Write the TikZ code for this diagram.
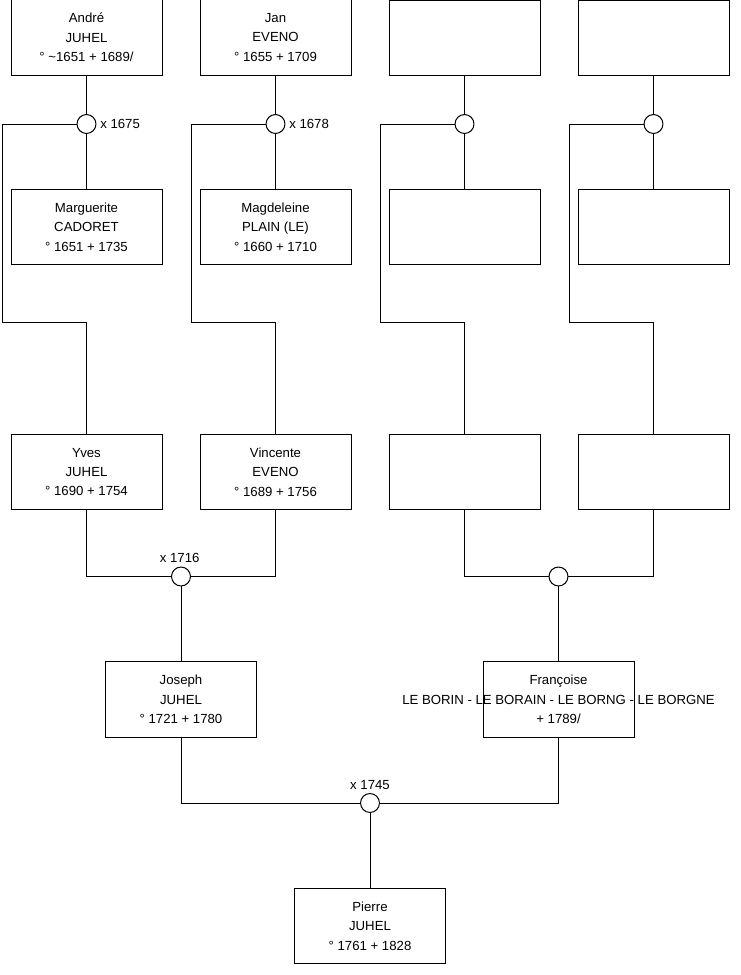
\documentclass[tikz,border=0pt]{standalone}
\usepackage{fontspec}
\setmainfont{Liberation Sans}
\begin{document}
\begin{tikzpicture}[x=0.75pt,y=-0.75pt,line width=0.75pt,
  person/.style={draw, minimum width=113.25pt, minimum height=56.5pt, inner sep=0pt,
    align=center, font=\fontsize{9.9}{14.6}\selectfont},
  wed/.style={draw, circle, minimum size=14.2pt, inner sep=0pt, fill=white},
  lbl/.style={font=\fontsize{9.9}{11}\selectfont, inner sep=1pt},
  link/.style={draw}]
\useasboundingbox (0,0) rectangle (740,975);

% row 1
\node[person] (andre) at (86.5,37.5) {André\\JUHEL\\° \textasciitilde1651 + 1689/};
\node[person] (jan) at (275.5,37.5) {Jan\\EVENO\\° 1655 + 1709};
\node[person] (e1) at (464.5,38.3) {};
\node[person] (e2) at (653.5,38.3) {};
% row 2
\node[person] (marg) at (86.5,227) {Marguerite\\CADORET\\° 1651 + 1735};
\node[person] (magd) at (275.5,227) {Magdeleine\\PLAIN (LE)\\° 1660 + 1710};
\node[person] (e3) at (464.5,227) {};
\node[person] (e4) at (653.5,227) {};
% row 3
\node[person] (yves) at (86.5,472) {Yves\\JUHEL\\° 1690 + 1754};
\node[person] (vinc) at (275.5,472) {Vincente\\EVENO\\° 1689 + 1756};
\node[person] (e5) at (464.5,472) {};
\node[person] (e6) at (653.5,472) {};
% row 4
\node[person] (joseph) at (181,699.5) {Joseph\\JUHEL\\° 1721 + 1780};
\node[person] (franc) at (558.5,699.5) {Françoise\\\makebox[0pt][c]{LE BORIN - LE BORAIN - LE BORNG - LE BORGNE}\\+ 1789/};
% row 5
\node[person] (pierre) at (370,926) {Pierre\\JUHEL\\° 1761 + 1828};

% rails
\coordinate (k1) at (2,322);
\coordinate (k2) at (191,322);
\coordinate (k3) at (380,322);
\coordinate (k4) at (569,322);

% marriages, row 1
\node[wed] (w1) at (86.5,124) {};
\node[wed] (w2) at (275.5,124) {};
\node[wed] (w3) at (464.5,124) {};
\node[wed] (w4) at (653.5,124) {};
\node[lbl, anchor=west] (l1) at ([xshift=1.5pt]w1.east) {x 1675};
\node[lbl, anchor=west] (l2) at ([xshift=1.5pt]w2.east) {x 1678};

\draw (andre) -- (w1); \draw (w1) -- (marg);
\draw (jan) -- (w2); \draw (w2) -- (magd);
\draw (e1) -- (w3); \draw (w3) -- (e3);
\draw (e2) -- (w4); \draw (w4) -- (e4);

\draw (w1.west) -| (k1) -- (k1 -| yves.north) -- (yves.north);
\draw (w2.west) -| (k2) -- (k2 -| vinc.north) -- (vinc.north);
\draw (w3.west) -| (k3) -- (k3 -| e5.north) -- (e5.north);
\draw (w4.west) -| (k4) -- (k4 -| e6.north) -- (e6.north);

% marriages, row 3
\node[wed] (w5) at (181,576.5) {};
\node[wed] (w6) at (558.5,576.5) {};
\node[lbl, anchor=south] (l5) at ([xshift=-1pt,yshift=1.5pt]w5.north) {x 1716};
\draw (yves.south) |- (w5.west);
\draw (vinc.south) |- (w5.east);
\draw (e5.south) |- (w6.west);
\draw (e6.south) |- (w6.east);
\draw (w5) -- (joseph);
\draw (w6) -- (franc);

% marriage row 4
\node[wed] (w7) at (370,803) {};
\node[lbl, anchor=south] (l7) at ([yshift=1.5pt]w7.north) {x 1745};
\draw (joseph.south) |- (w7.west);
\draw (franc.south) |- (w7.east);
\draw (w7) -- (pierre);
\end{tikzpicture}
\end{document}
